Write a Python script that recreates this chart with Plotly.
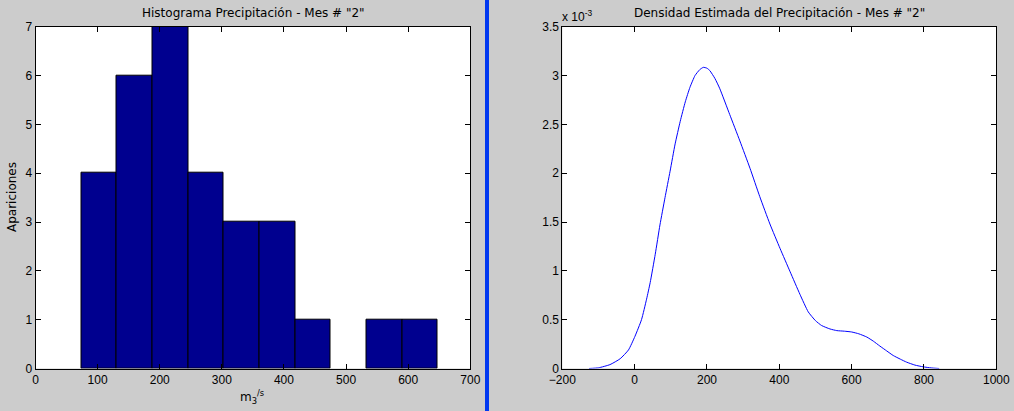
import plotly.graph_objects as go

# Histogram data
bin_edges = [73.5, 130.9, 188.3, 245.7, 303.1, 360.5, 417.9, 475.3, 532.7, 590.1, 647.5]
counts = [4, 6, 7, 4, 3, 3, 1, 0, 1, 1]

# Density estimate (values in units of 1e-3)
dens_x = [-126, -100, -68, -40, -17, 1, 19, 33, 43, 57, 70, 84, 98, 112, 126, 140, 153,
          167, 180, 190, 200, 208, 222, 235, 263, 291, 319, 346, 374, 402, 430, 457,
          480, 500, 517, 540, 559, 580, 600, 620, 642, 660, 678, 697, 715, 735, 752, 775,
          798, 820, 842]
dens_y = [0.0, 0.007, 0.04, 0.10, 0.19, 0.33, 0.50, 0.71, 0.88, 1.17, 1.47, 1.75, 2.02,
          2.30, 2.53, 2.73, 2.88, 3.00, 3.06, 3.084, 3.075, 3.05, 2.97, 2.87, 2.60, 2.33,
          2.05, 1.76, 1.48, 1.23, 0.99, 0.76, 0.58, 0.49, 0.44, 0.405, 0.388, 0.382,
          0.374, 0.355, 0.322, 0.28, 0.23, 0.18, 0.133, 0.095, 0.065, 0.035, 0.017, 0.006, 0.0]

left_xticks = [0, 100, 200, 300, 400, 500, 600, 700]
left_yticks = [0, 1, 2, 3, 4, 5, 6, 7]
right_xticks = [-200, 0, 200, 400, 600, 800, 1000]
right_yticks = [0, 0.5, 1, 1.5, 2, 2.5, 3, 3.5]
right_ylabels = ["0", "0.5", "1", "1.5", "2", "2.5", "3", "3.5"]

centers = [(bin_edges[i] + bin_edges[i + 1]) / 2 for i in range(len(counts))]
widths = [bin_edges[i + 1] - bin_edges[i] for i in range(len(counts))]
edge_w = [1 if c > 0 else 0 for c in counts]

W, H = 1014, 411
FONT = "Liberation Sans, Arial, Helvetica, sans-serif"
TFONT = "DejaVu Sans, Liberation Sans, sans-serif"

fig = go.Figure()
fig.add_trace(go.Bar(x=centers, y=counts, width=widths,
                     marker=dict(color="#00008f", line=dict(color="black", width=edge_w)),
                     xaxis="x", yaxis="y", showlegend=False, hoverinfo="skip"))
fig.add_trace(go.Scatter(x=dens_x, y=dens_y, mode="lines",
                         line=dict(color="#0000ff", width=1, shape="spline", smoothing=0.5),
                         xaxis="x2", yaxis="y2", showlegend=False, hoverinfo="skip"))

ydom = [1 - 368.5 / H, 1 - 26.7 / H]
axis_common = dict(showgrid=False, zeroline=False, showline=True, linecolor="black",
                   linewidth=1, mirror="ticks", ticks="inside", ticklen=5,
                   tickcolor="black", tickwidth=1, automargin=False,
                   tickfont=dict(family=FONT, size=12, color="black"))

fig.update_layout(
    width=W, height=H,
    margin=dict(l=0, r=0, t=0, b=0),
    paper_bgcolor="#cccccc", plot_bgcolor="white",
    bargap=0,
    xaxis=dict(domain=[35.5 / W, 470.3 / W], range=[0, 700], tickvals=left_xticks,
               anchor="y", **axis_common),
    yaxis=dict(domain=ydom, range=[0, 7], tickvals=left_yticks, anchor="x", **axis_common),
    xaxis2=dict(domain=[562.3 / W, 996.3 / W], range=[-200, 1000], tickvals=right_xticks,
                anchor="y2", **axis_common),
    yaxis2=dict(domain=ydom, range=[0, 3.5], tickvals=right_yticks, ticktext=right_ylabels,
                anchor="x2", **axis_common),
    shapes=[dict(type="rect", xref="paper", yref="paper", x0=485 / W, x1=489 / W,
                 y0=0, y1=1, fillcolor="#0038f0", line=dict(width=0), layer="above")],
    annotations=[
        dict(text='Histograma Precipitación - Mes # "2"', x=253 / W, y=1 - 13 / H,
             xref="paper", yref="paper", showarrow=False, xanchor="center", yanchor="middle",
             font=dict(family=TFONT, size=12, color="black")),
        dict(text='Densidad Estimada del Precipitación - Mes # "2"', x=779 / W, y=1 - 13 / H,
             xref="paper", yref="paper", showarrow=False, xanchor="center", yanchor="middle",
             font=dict(family=TFONT, size=12, color="black")),
        dict(text="m<sub>3</sub><sup>/s</sup>", x=252 / W, y=1 - 397 / H,
             xref="paper", yref="paper", showarrow=False, xanchor="center", yanchor="middle",
             font=dict(family=TFONT, size=12, color="black")),
        dict(text="Apariciones", x=12 / W, y=1 - 197 / H, textangle=-90,
             xref="paper", yref="paper", showarrow=False, xanchor="center", yanchor="middle",
             font=dict(family=TFONT, size=12, color="black")),
        dict(text="x 10<sup>-3</sup>", x=560 / W, y=1 - 16 / H,
             xref="paper", yref="paper", showarrow=False, xanchor="left", yanchor="middle",
             font=dict(family=FONT, size=12, color="black")),
    ],
)

fig.write_html("out.html")
